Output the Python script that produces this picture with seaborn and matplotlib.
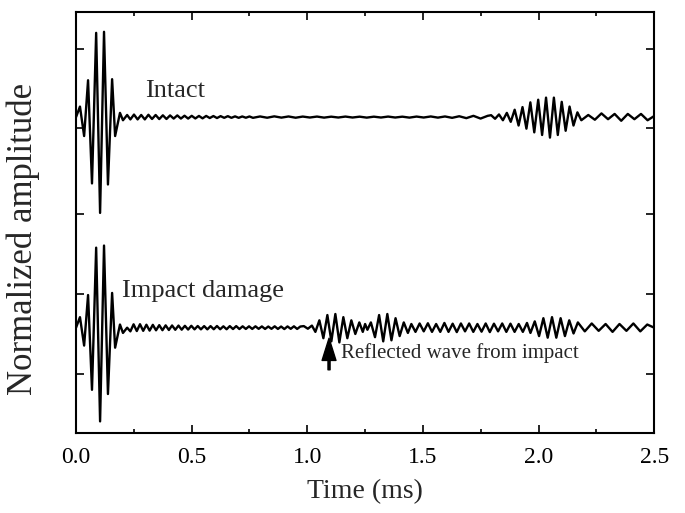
import numpy as np
import pandas as pd
import matplotlib
matplotlib.use('Agg')
import matplotlib.pyplot as plt
import seaborn as sns
from matplotlib.ticker import MultipleLocator, FormatStrFormatter

# waveform values (time in ms, normalized amplitude)
# excitation burst, extrema
burst_t = [0.0, 0.017, 0.035, 0.052, 0.069, 0.087, 0.104, 0.121, 0.138, 0.156, 0.169, 0.190, 0.203, 0.221]
intact_burst = [0.0, 0.10, -0.18, 0.35, -0.63, 0.80, -0.91, 0.81, -0.64, 0.36, -0.18, 0.04, -0.03, 0.02]
damage_burst = [0.0, 0.10, -0.17, 0.31, -0.59, 0.76, -0.89, 0.78, -0.63, 0.33, -0.19, 0.03, -0.05, 0.0]

# intact: ripple, quiet part, end echo, tail  (start, end, extrema)
intact_ripple = [-0.022, 0.024, -0.022, 0.02, -0.022, 0.022, -0.018, 0.02, -0.019, 0.017, -0.018, 0.016,
                 -0.014, 0.016, -0.014, 0.013, -0.014, 0.012, -0.013, 0.011, -0.012, 0.011, -0.009, 0.01,
                 -0.009, 0.009, -0.007, 0.009, -0.007, 0.007, -0.007, 0.006, -0.006, 0.006]
intact_quiet = [-0.007, 0.006, -0.006, 0.007, -0.005, 0.006, -0.006, 0.005, -0.004, 0.005, -0.005, 0.004,
                -0.004, 0.005, -0.004, 0.004, -0.005, 0.004, -0.004, 0.005, -0.004, 0.004, -0.005, 0.005,
                -0.004, 0.006, -0.005, 0.006, -0.007, 0.008, -0.01, 0.012, -0.014, 0.012]
intact_echo = [0.018, -0.016, 0.025, -0.03, 0.04, -0.045, 0.07, -0.08, 0.095, -0.11, 0.14, -0.145,
               0.165, -0.17, 0.185, -0.195, 0.185, -0.17, 0.145, -0.13, 0.1, -0.08, 0.045, -0.03]
intact_tail = [0.02, -0.025, 0.035, -0.02, 0.03, -0.035, 0.03, -0.02, 0.03, -0.03, 0.01]

# impact damage: ripple, reflections, end echo, tail
damage_ripple = [-0.035, 0.032, -0.032, 0.033, -0.03, 0.028, -0.028, 0.027, -0.025, 0.024, -0.024, 0.022,
                 -0.022, 0.021, -0.02, 0.02, -0.019, 0.018, -0.018, 0.018, -0.016, 0.016, -0.016, 0.015,
                 -0.016, 0.015, -0.015, 0.016, -0.015, 0.013, -0.015, 0.015, -0.013, 0.015, -0.013, 0.013,
                 -0.012, 0.013, -0.012, 0.013, -0.011, 0.012, -0.012, 0.011, -0.011, 0.013, -0.012, 0.011,
                 -0.013, 0.012, -0.011, 0.013, -0.012, 0.011]
damage_pre = [0.015, -0.01, 0.02]
damage_echo1 = [-0.04, 0.07, -0.1, 0.12, -0.13, 0.13, -0.14, 0.1, -0.1, 0.07, -0.06, 0.05]
damage_gap = [-0.04, 0.035, -0.02]
damage_echo2 = [0.05, -0.09, 0.12, -0.13, 0.13, -0.12, 0.09, -0.08, 0.05, -0.05]
damage_mid = [0.035, -0.04, 0.04, -0.035, 0.042, -0.04, 0.035, -0.04, 0.045, -0.04, 0.038, -0.042,
              0.04, -0.035, 0.04, -0.04, 0.035, -0.038, 0.04, -0.042, 0.038, -0.035, 0.04, -0.04,
              0.038, -0.04, 0.035, -0.04, 0.045]
damage_echo3 = [-0.05, 0.06, -0.08, 0.09, -0.095, 0.1, -0.095, 0.09, -0.08, 0.07, -0.055, 0.05]
damage_tail = [-0.035, 0.04, -0.03, 0.035, -0.04, 0.035, -0.03, 0.04, -0.035, 0.03, 0.0]

intact_offset = 1.0
damage_offset = -1.0


def build(t_first, a_first, segments):
    ts = [np.array(t_first)]
    ys = [np.array(a_first)]
    for t0, t1, amps in segments:
        ts.append(np.linspace(t0, t1, len(amps)))
        ys.append(np.array(amps))
    return np.concatenate(ts), np.concatenate(ys)


t1, y1 = build(burst_t, intact_burst, [(0.235, 0.75, intact_ripple),
                                       (0.765, 1.78, intact_quiet),
                                       (1.795, 2.185, intact_echo),
                                       (2.215, 2.5, intact_tail)])
t2, y2 = build(burst_t, damage_burst, [(0.235, 0.97, damage_ripple),
                                       (0.985, 1.02, damage_pre),
                                       (1.035, 1.225, damage_echo1),
                                       (1.24, 1.26, damage_gap),
                                       (1.275, 1.435, damage_echo2),
                                       (1.45, 1.95, damage_mid),
                                       (1.965, 2.17, damage_echo3),
                                       (2.2, 2.5, damage_tail)])

df = pd.concat([
    pd.DataFrame({'t': t1, 'y': y1 + intact_offset, 'trace': 'Intact'}),
    pd.DataFrame({'t': t2, 'y': y2 + damage_offset, 'trace': 'Impact damage'}),
])

sns.set_style('ticks')
plt.rcParams['font.family'] = ['Liberation Serif', 'DejaVu Serif']

fig = plt.figure(figsize=(6.85, 5.13), dpi=100)
ax = fig.add_axes([0.111, 0.156, 0.844, 0.821])

sns.lineplot(data=df, x='t', y='y', hue='trace', palette=['black', 'black'],
             estimator=None, sort=False, legend=False, lw=1.7, ax=ax)

ax.set_xlim(0, 2.5)
ax.set_ylim(-2, 2)
ax.xaxis.set_major_locator(MultipleLocator(0.5))
ax.xaxis.set_minor_locator(MultipleLocator(0.25))
ax.xaxis.set_major_formatter(FormatStrFormatter('%.1f'))
ax.set_yticks([-1.44, -0.68, 0.08, 0.90, 1.65])
ax.set_yticklabels([])
ax.tick_params(which='both', direction='in', top=True, right=True, width=1.2, colors='black')
ax.tick_params(which='major', length=6, labelsize=17, pad=10)
ax.tick_params(which='minor', length=3)
for s in ax.spines.values():
    s.set_linewidth(1.5)
    s.set_color('black')

ax.set_xlabel('Time (ms)', fontsize=20, labelpad=8)
ax.set_ylabel('Normalized amplitude', fontsize=25)
ax.yaxis.set_label_coords(-0.062, 0.46)

ax.text(0.30, 1.25, 'Intact', fontsize=19, va='center')
ax.text(0.20, -0.65, 'Impact damage', fontsize=19, va='center')
ax.annotate('', xy=(1.094, -1.10), xytext=(1.094, -1.40),
            arrowprops=dict(facecolor='black', edgecolor='black', width=1.5, headwidth=10, headlength=16))
ax.text(1.146, -1.24, 'Reflected wave from impact', fontsize=15, va='center')

fig.savefig('out.png', dpi=100)
